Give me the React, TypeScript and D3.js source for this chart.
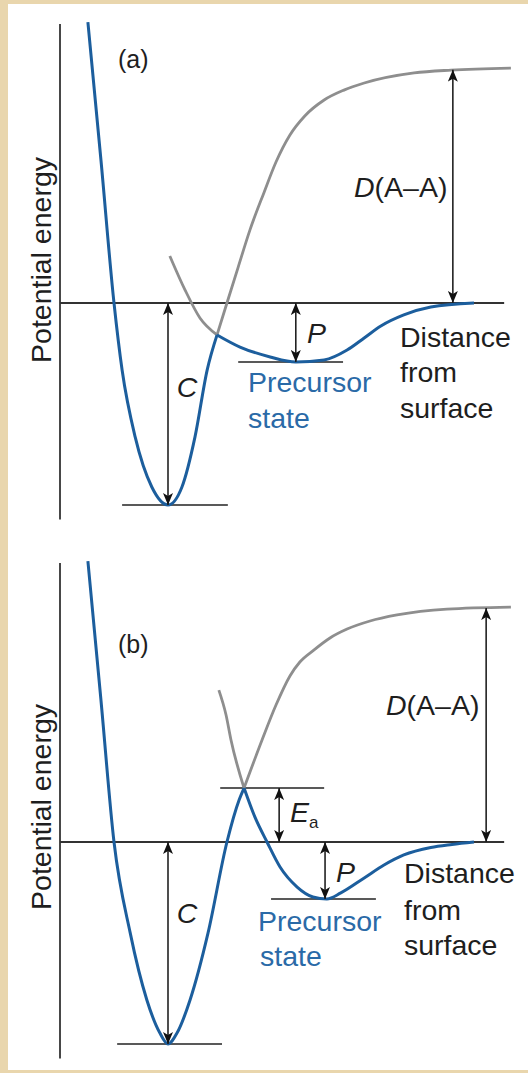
import React from 'react';
import * as d3 from 'd3';

type Pt = [number, number];

// curves, as [distance, energy]; energy 0 = separated atoms level, chemisorption well = -10
const wellA: Pt[] = [[0.62, 13.9], [0.91, 7.08], [1.2, 0], [1.38, -3.32], [1.67, -6.63], [2.04, -9.11], [2.4, -10], [2.71, -9.11], [3.0, -6.63], [3.27, -3.32], [3.49, -1.58]];
const physA: Pt[] = [[3.49, -1.58], [4.0, -2.18], [4.67, -2.67], [5.24, -2.92], [5.87, -2.82], [6.38, -2.33], [6.76, -1.73], [7.13, -1.14], [7.64, -0.59], [8.24, -0.2], [9.2, 0]];
const physLeftA: Pt[] = [[2.44, 2.33], [2.78, 0.64], [3.11, -0.74], [3.49, -1.58]];
const chemTailA: Pt[] = [[3.49, -1.58], [3.71, 0], [3.96, 1.78], [4.22, 3.61], [4.53, 5.45], [4.8, 6.98], [5.11, 8.32], [5.44, 9.26], [5.87, 10.05], [6.31, 10.54], [6.76, 10.89], [7.87, 11.39], [8.69, 11.53], [10.02, 11.63]];

const wellB: Pt[] = [[0.62, 13.9], [0.91, 7.03], [1.2, 0], [1.56, -4.5], [1.93, -7.82], [2.22, -9.46], [2.4, -10], [2.6, -9.46], [2.89, -7.82], [3.29, -4.5], [3.71, 0], [3.98, 2.08], [4.09, 2.67]];
const physB: Pt[] = [[4.09, 2.67], [4.33, 1.24], [4.6, 0], [4.89, -1.24], [5.27, -2.23], [5.62, -2.72], [5.93, -2.82], [6.24, -2.52], [6.76, -1.78], [7.2, -1.14], [7.64, -0.64], [8.24, -0.27], [8.71, -0.12], [9.2, 0]];
const physLeftB: Pt[] = [[3.53, 7.52], [3.69, 6.29], [3.8, 5.05], [4.09, 2.67]];
const chemTailB: Pt[] = [[4.09, 2.67], [4.49, 5.05], [4.8, 6.78], [5.11, 8.22], [5.33, 8.91], [5.64, 9.5], [6.0, 10.1], [6.38, 10.54], [6.89, 10.94], [7.49, 11.24], [8.6, 11.53], [10.02, 11.63]];

// short level lines: [from distance, to distance, energy]
const levelsA: [number, number, number][] = [[1.38, 3.73, -10], [3.96, 6.29, -2.92]];
const levelsB: [number, number, number][] = [[1.27, 3.6, -10], [3.56, 5.87, 2.67], [4.69, 7.02, -2.82]];

// double arrows: [distance, energy from, energy to]
const arrowsA: [number, number, number][] = [[2.4, 0, -10], [5.24, 0, -2.92], [8.73, 0, 11.55]];
const arrowsB: [number, number, number][] = [[2.4, 0, -10], [4.87, 0, 2.67], [5.89, 0, -2.82], [9.47, 0, 11.58]];

const axisTop = 13.81;
const axisBottom = -10.72;
const zeroEnd = 9.87;

const BLUE = '#1c5e9d';
const BLUE_TEXT = '#2a6aa7';
const GRAY = '#8e8e8e';
const INK = '#1e1e1e';
const FONT = 'Liberation Sans, Arial, Helvetica, sans-serif';

const x = d3.scaleLinear().domain([0, 10]).range([60, 510]);

function Panel({ y, well, phys, physLeft, chemTail, levels, arrows, children }: any) {
  const line = d3.line<Pt>().x(d => x(d[0])).y(d => y(d[1])).curve(d3.curveMonotoneX);
  return (
    <g>
      <line x1={x(0)} x2={x(0)} y1={y(axisTop)} y2={y(axisBottom)} stroke="#333" strokeWidth={1.8} />
      <line x1={x(0)} x2={x(zeroEnd)} y1={y(0)} y2={y(0)} stroke="#333" strokeWidth={1.8} />
      {levels.map((l: number[], i: number) => (
        <line key={i} x1={x(l[0])} x2={x(l[1])} y1={y(l[2])} y2={y(l[2])} stroke="#222" strokeWidth={1.6} />
      ))}
      <path d={line(physLeft) || ''} fill="none" stroke={GRAY} strokeWidth={2.8} />
      <path d={line(chemTail) || ''} fill="none" stroke={GRAY} strokeWidth={2.8} />
      <path d={line(well) || ''} fill="none" stroke={BLUE} strokeWidth={3} strokeLinejoin="round" />
      <path d={line(phys) || ''} fill="none" stroke={BLUE} strokeWidth={3} strokeLinejoin="round" />
      {arrows.map((a: number[], i: number) => (
        <line key={i} x1={x(a[0])} x2={x(a[0])} y1={y(a[1])} y2={y(a[2])} stroke="#222" strokeWidth={1.6}
          markerStart="url(#head)" markerEnd="url(#head)" />
      ))}
      {children}
    </g>
  );
}

export default function App() {
  const yA = d3.scaleLinear().domain([-10, 0]).range([505, 303]);
  const yB = d3.scaleLinear().domain([-10, 0]).range([1044, 842]);
  const txt = { fontFamily: FONT, fontSize: 28.5, fill: INK };
  return (
    <svg width={528} height={1073} style={{ position: 'absolute', left: 0, top: 0 }}>
      <defs>
        <marker id="head" viewBox="0 0 12 10" refX={12} refY={5} markerWidth={12} markerHeight={10}
          markerUnits="userSpaceOnUse" orient="auto-start-reverse">
          <path d="M0,0 L12,5 L0,10 L3,5 Z" fill="#111" />
        </marker>
      </defs>
      <rect x={0} y={0} width={528} height={1073} fill="#e9d6ad" />
      <rect x={8} y={4} width={520} height={1066} fill="#ffffff" />

      <Panel y={yA} well={wellA} phys={physA} physLeft={physLeftA} chemTail={chemTailA} levels={levelsA} arrows={arrowsA}>
        <text x={118} y={68} style={{ ...txt, fontSize: 25 }}>(a)</text>
        <text transform="translate(51,260) rotate(-90)" textAnchor="middle" style={txt}>Potential energy</text>
        <text x={354} y={197} style={txt}><tspan fontStyle="italic">D</tspan>(A–A)</text>
        <text x={187} y={397} textAnchor="middle" style={{ ...txt, fontStyle: 'italic' }}>C</text>
        <text x={307} y={343} style={{ ...txt, fontStyle: 'italic' }}>P</text>
        <text style={{ ...txt, fill: BLUE_TEXT }}>
          <tspan x={248} y={392}>Precursor</tspan>
          <tspan x={248} y={428}>state</tspan>
        </text>
        <text style={txt}>
          <tspan x={400} y={347}>Distance</tspan>
          <tspan x={400} y={382}>from</tspan>
          <tspan x={400} y={418}>surface</tspan>
        </text>
      </Panel>

      <Panel y={yB} well={wellB} phys={physB} physLeft={physLeftB} chemTail={chemTailB} levels={levelsB} arrows={arrowsB}>
        <text x={118} y={653} style={{ ...txt, fontSize: 25 }}>(b)</text>
        <text transform="translate(51,807) rotate(-90)" textAnchor="middle" style={txt}>Potential energy</text>
        <text x={386} y={715} style={txt}><tspan fontStyle="italic">D</tspan>(A–A)</text>
        <text x={187} y={923} textAnchor="middle" style={{ ...txt, fontStyle: 'italic' }}>C</text>
        <text x={336} y={882} style={{ ...txt, fontStyle: 'italic' }}>P</text>
        <text x={290} y={822} style={txt}>
          <tspan fontStyle="italic">E</tspan>
          <tspan fontSize={17} dy={6}>a</tspan>
        </text>
        <text style={{ ...txt, fill: BLUE_TEXT }}>
          <tspan x={258} y={931}>Precursor</tspan>
          <tspan x={260} y={966}>state</tspan>
        </text>
        <text style={txt}>
          <tspan x={404} y={883}>Distance</tspan>
          <tspan x={404} y={920}>from</tspan>
          <tspan x={404} y={955}>surface</tspan>
        </text>
      </Panel>
    </svg>
  );
}
